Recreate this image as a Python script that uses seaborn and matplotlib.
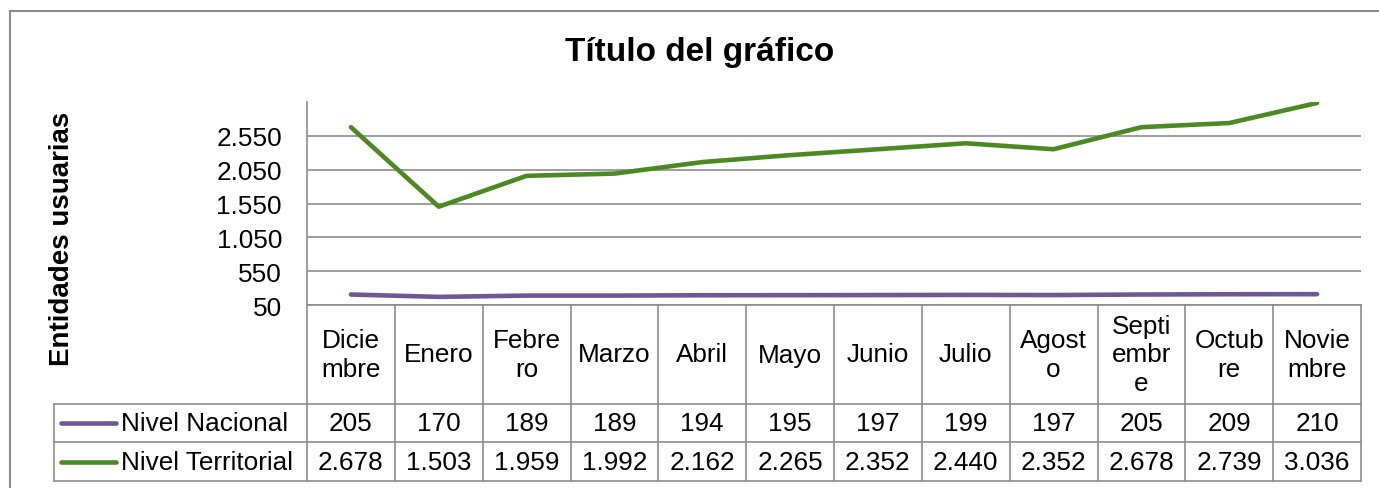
import numpy as np
import pandas as pd
import seaborn as sns
import matplotlib.pyplot as plt
import matplotlib.transforms as mtransforms
from matplotlib.lines import Line2D

# datos del grafico
meses = ["Dicie\nmbre", "Enero", "Febre\nro", "Marzo", "Abril", "Mayo",
         "Junio", "Julio", "Agost\no", "Septi\nembr\ne", "Octub\nre", "Novie\nmbre"]
nacional = [205, 170, 189, 189, 194, 195, 197, 199, 197, 205, 209, 210]
territorial = [2678, 1503, 1959, 1992, 2162, 2265, 2352, 2440, 2352, 2678, 2739, 3036]
series = ["Nivel Nacional", "Nivel Territorial"]
colores = ["#6e5895", "#4b8a23"]
yticks = [50, 550, 1050, 1550, 2050, 2550]
ytick_labels = ["50", "550", "1.050", "1.550", "2.050", "2.550"]

W, H = 1379, 489
GRIS = "#8c8c8c"
FS = 18.8

sns.set_theme(style="white")
plt.rcParams['font.family'] = ['Liberation Sans', 'DejaVu Sans']
plt.rcParams['text.color'] = 'black'
plt.rcParams['ytick.color'] = 'black'

df = pd.DataFrame({
    "pos": list(range(len(meses))) * 2,
    "valor": nacional + territorial,
    "serie": [series[0]] * len(meses) + [series[1]] * len(meses),
})

fig = plt.figure(figsize=(W / 100, H / 100), dpi=100)
ax = fig.add_axes([307 / W, 1 - 306 / H, (1361 - 307) / W, (306 - 103) / H])

sns.lineplot(data=df, x="pos", y="valor", hue="serie", palette=colores,
             linewidth=3.3, legend=False, ax=ax, solid_capstyle="round")

ax.set_yticks(yticks)
ax.set_yticklabels(ytick_labels, fontsize=FS, color="black")
ax.set_xticks([])
ax.set_xlabel("")
ax.set_ylabel("")
ax.tick_params(axis="y", length=0, pad=18)
ax.yaxis.grid(True, color=GRIS, linewidth=1.2)
for s in ["top", "right"]:
    ax.spines[s].set_visible(False)
for s in ["left", "bottom"]:
    ax.spines[s].set_color(GRIS)
    ax.spines[s].set_linewidth(1.2)

# tabla de datos debajo del grafico
trans = mtransforms.blended_transform_factory(ax.transData, ax.transAxes)
ah = 306 - 103
ys = [0, -99 / ah, -137 / ah, -176 / ah]
colw = (1361 - 307) / 12
xl = -0.5 - (307 - 54) / colw

def linea(x, y):
    ax.add_line(Line2D(x, y, transform=trans, color=GRIS, lw=1.2, clip_on=False))

for i in range(13):
    linea([i - 0.5, i - 0.5], [ys[0], ys[3]])
linea([xl, xl], [ys[1], ys[3]])
for y in ys[1:]:
    linea([xl, 11.5], [y, y])

for i, m in enumerate(meses):
    ax.text(i, (ys[0] + ys[1]) / 2, m, transform=trans, ha="center", va="center",
            fontsize=FS, linespacing=1.25, clip_on=False)

fmt = lambda v: f"{v:,}".replace(",", ".")
for r, (nombre, vals, c) in enumerate(zip(series, [nacional, territorial], colores)):
    ym = (ys[r + 1] + ys[r + 2]) / 2
    for i, v in enumerate(vals):
        ax.text(i, ym, fmt(v), transform=trans, ha="center", va="center",
                fontsize=FS, clip_on=False)
    ax.add_line(Line2D([xl + 7 / colw, xl + 62 / colw], [ym, ym], transform=trans,
                       color=c, lw=3.3, solid_capstyle="round", clip_on=False))
    ax.text(xl + 67 / colw, ym, nombre, transform=trans, ha="left", va="center",
            fontsize=FS, clip_on=False)

ax.set_xlim(-0.5, 11.5)
ax.set_ylim(50, 3050)

# titulo, eje y y marco
fig.text(700 / W, 1 - 52 / H, "Título del gráfico", ha="center", va="center",
         fontsize=24, fontweight="bold")
fig.text(62 / W, 1 - 239 / H, "Entidades usuarias", ha="center", va="center",
         rotation=90, fontsize=20, fontweight="bold")
fig.add_artist(Line2D([9.5 / W, 9.5 / W], [0, 1 - 12 / H], transform=fig.transFigure,
                      color=GRIS, lw=1.5))
fig.add_artist(Line2D([9.5 / W, 1], [1 - 12 / H, 1 - 12 / H], transform=fig.transFigure,
                      color=GRIS, lw=1.5))

fig.savefig("out.png", dpi=100)
